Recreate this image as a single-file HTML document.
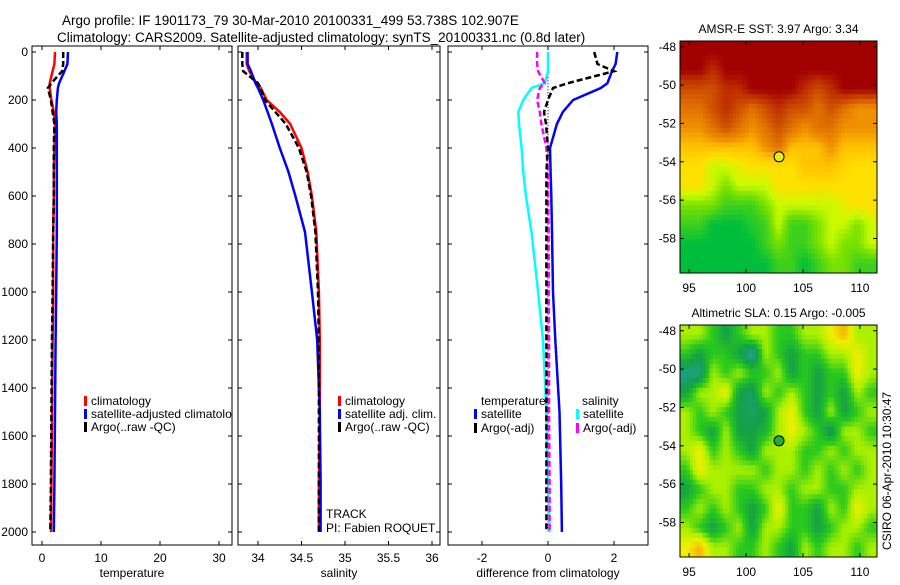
<!DOCTYPE html>
<html><head><meta charset="utf-8"><style>
body{margin:0;background:#fff;}
svg{font-family:"Liberation Sans",sans-serif;}
</style></head><body>
<svg id="fig" width="900" height="580" viewBox="0 0 900 580" xmlns="http://www.w3.org/2000/svg">
<rect width="900" height="580" fill="#fff"/>
<text x="62" y="25" font-size="13.5">Argo profile: IF 1901173_79 30-Mar-2010 20100331_499 53.738S 102.907E</text>
<text x="57" y="42" font-size="13.5">Climatology: CARS2009. Satellite-adjusted climatology: synTS_20100331.nc (0.8d later)</text>
<g id="plots"></g>
</svg>
<script>
// ---- profile data ----
const depths=[0,50,80,130,150,200,250,300,400,500,600,750,1000,1200,1500,1800,2000];
const tempClim=[2.2,2.1,1.8,1.3,1.3,1.6,2.0,2.2,2.1,2.0,2.0,1.9,1.9,1.8,1.7,1.6,1.5];
const tempSat=[4.4,4.3,3.8,2.9,2.7,2.5,2.4,2.5,2.5,2.5,2.5,2.5,2.4,2.3,2.2,2.1,2.0];
const tempArgo=[3.6,3.6,3.4,1.6,1.0,1.5,1.8,2.1,2.0,2.0,2.0,1.9,1.8,1.7,1.6,1.5,1.4];
const salClim=[33.87,33.87,33.9,33.98,34.03,34.1,34.25,34.37,34.5,34.57,34.62,34.67,34.7,34.71,34.71,34.7,34.7];
const salSat=[33.88,33.88,33.92,33.97,34.0,34.06,34.11,34.16,34.25,34.35,34.43,34.54,34.62,34.68,34.71,34.72,34.72];
const salArgo=[33.82,33.82,33.83,34.0,34.03,34.08,34.2,34.32,34.47,34.56,34.61,34.66,34.69,34.7,34.7,34.7,34.7];
const dTempSat=[2.1,2.05,1.94,1.8,1.6,0.76,0.45,0.27,0.06,0.08,0.1,0.12,0.15,0.22,0.35,0.4,0.42];
const dTempArgo=[1.4,1.5,2.0,0.6,0.15,0.0,-0.12,-0.06,0.0,-0.05,-0.05,-0.05,-0.05,-0.05,-0.05,-0.05,-0.05];
const dSalSat=[0,0,0,-0.1,-0.5,-0.75,-0.9,-0.88,-0.8,-0.75,-0.67,-0.5,-0.3,-0.15,-0.05,0,0.05];
const dSalArgo=[-0.33,-0.33,-0.3,-0.1,-0.25,-0.33,-0.25,-0.2,-0.05,0,0,0.02,0.02,0.03,0.03,0.05,0.05];
const depthTicks=[0,200,400,600,800,1000,1200,1400,1600,1800,2000];
const tempTicks=[0,10,20,30];
const salTicks=[34,34.5,35,35.5,36];
const diffTicks=[-2,0,2];
// ---- map data (rows top=-48 to bottom=-59.7, cols lon 94.2..111.5) ----
const sstGrid=[
[5,5,5,5,5,5,5,5,5,5,5,5,5,5,5],
[5,5,4.5,5,5,5,5,5,5,5,5,5,5,5,5],
[4,4,4,4.5,4.5,5,5,5,5,4.5,4,4.5,5,5,5],
[3.5,3.5,4,4.5,4,3.5,4,4.5,4,4,3.5,4,3.5,3,3],
[3,3,3.5,4,3.5,3,3.5,4,3.5,3,3.5,3.5,3,3,3],
[2.5,2.5,2.5,2.5,2.5,2.5,3,3.5,2.5,2.5,2.5,3,2.5,2.5,2.5],
[2,2,1.5,1.5,1.8,2,2,2,2,2.5,2.5,2.5,2.2,2,2],
[2,2,1.5,1,1.5,1.5,1.5,2,2,2,2,2,2,2,2],
[1,1,1,0.5,0.5,0.5,1,1.5,1.5,1.5,1.5,1.5,1.8,2,2],
[0.5,0.5,0,0,0,0.3,0.5,1.5,0.5,0.5,1,1.5,1.5,1,1.5],
[0,0,0,0,0,0,0.5,1,0.5,0.5,1,1.5,1,1,1.5],
[0,0,0,0,0,0,0,0.5,0.5,0,0.5,1,1,0.5,0.5]];
const slaGrid=[
[2,2,1,0,1,2,2,1,1,2,2,3,4,2,2],
[1,0,1,1,0,-1.5,2,1,0,1,1,2,2,3,2],
[-1,-1,2,1,2,1,1,2,0,1,0,1,1,3,2],
[0,2,2,3,0,-0.5,2,1,2,1,0,1,0,2,1],
[2,1,2,1,0,-0.5,0,2,3,1,0,2,0,1,2],
[2,1,0,2,0,0,0.5,2,3,2,1,-0.5,2,2,1],
[2,3,1,2,1,0,2,2,2,1,1,2,1,2,2],
[1,3,2,2,2,2,1,2,2,1,2,1,2,1,2],
[0,1,2,2,1,1,2,2,1,2,2,1,1,2,2],
[1,2,1,2,1,0,1,3,1,1,0,2,1,3,2],
[2,1,0,1,2,0,2,2,1,1,0,1,2,2,1],
[3,4,2,2,1,1,2,1,0,2,1,2,2,1,2]];
const lonTicks=[95,100,105,110];
const latTicks=[-48,-50,-52,-54,-56,-58];
const floatLon=102.9, floatLat=-53.74;

const NS="http://www.w3.org/2000/svg";
const root=document.getElementById('plots');
function mk(tag,attrs,parent){const e=document.createElementNS(NS,tag);for(const k in attrs)e.setAttribute(k,attrs[k]);(parent||root).appendChild(e);return e;}
function txt(x,y,s,size,anchor,parent){const t=mk('text',{x:x,y:y,'font-size':size||12,'text-anchor':anchor||'start'},parent);t.textContent=s;return t;}

const yD=d=>52+d*0.24;
const BOT=545;
function panel(name,x0,x1,xs,ticks,label,showY){
  const g=mk('g',{});
  
  
  const b=mk('rect',{x:x0,y:46,width:x1-x0,height:BOT-46,fill:'none',stroke:'#000','stroke-width':1},g);
  
  
  ticks.forEach(v=>{const x=xs(v);mk('line',{x1:x,x2:x,y1:BOT,y2:BOT-4,stroke:'#000'},g);mk('line',{x1:x,x2:x,y1:46,y2:50,stroke:'#000'},g);
    const t=txt(x,BOT+17,String(v),12,'middle',g);
    
    });
  depthTicks.forEach(d=>{const y=yD(d);mk('line',{x1:x0,x2:x0+4,y1:y,y2:y,stroke:'#000'},g);mk('line',{x1:x1,x2:x1-4,y1:y,y2:y,stroke:'#000'},g);
    if(showY){const t=txt(x0-4,y+4,String(d),12,'end',g);
    
    }});
  const l=txt((x0+x1)/2,BOT+32,label,12,'middle',g);
  
  
  return g;
}
function series(g,name,vals,xs,color,w,dash,clip){
  const pts=vals.map((v,i)=>xs(v).toFixed(1)+','+yD(depths[i]).toFixed(1)).join(' ');
  const p=mk('polyline',{points:pts,fill:'none',stroke:color,'stroke-width':w,'stroke-dasharray':dash||'none','clip-path':clip},g);
  
  
}
function legend(g,x,y,color,label,clip){
  mk('rect',{x:x,y:y-9,width:3,height:10,fill:color},g);
  const t=txt(x+7,y,label,12,'start',g);
  if(clip)t.setAttribute('clip-path',clip);
  
  
}
const defs=mk('defs',{});
function clipR(id,x0,x1){const c=mk('clipPath',{id:id},defs);mk('rect',{x:x0,y:46,width:x1-x0,height:BOT-46},c);return 'url(#'+id+')';}

// Panel 1 temperature
const xT=v=>42+v*5.9;
const c1=clipR('c1',32,232);
const g1=panel('temperature-panel',32,232,xT,tempTicks,'temperature',true);
series(g1,'temp-climatology-line',tempClim,xT,'#f00',2.5,null,c1);
series(g1,'temp-satellite-line',tempSat,xT,'#00f',2.5,null,c1);
series(g1,'temp-argo-line',tempArgo,xT,'#000',2.5,'6,3',c1);
legend(g1,84,405,'#f00','climatology');
legend(g1,84,418,'#00f','satellite-adjusted climatology',c1);
legend(g1,84,431,'#000','Argo(..raw -QC)');

// Panel 2 salinity
const xS=v=>258+(v-34)*87;
const c2=clipR('c2',238,440);
const g2=panel('salinity-panel',238,440,xS,salTicks,'salinity',false);
series(g2,'sal-climatology-line',salClim,xS,'#f00',2.5,null,c2);
series(g2,'sal-satellite-line',salSat,xS,'#00f',2.5,null,c2);
series(g2,'sal-argo-line',salArgo,xS,'#000',2.5,'6,3',c2);
legend(g2,338,405,'#f00','climatology');
legend(g2,338,418,'#00f','satellite adj. clim.');
legend(g2,338,431,'#000','Argo(..raw -QC)');
const tr=txt(326,518,'TRACK',12,'start',g2);


const pi=txt(326,532,'PI: Fabien ROQUET',12,'start',g2);



// Panel 3 differences
const xDf=v=>548+v*33;
const c3=clipR('c3',448,648);
const g3=panel('difference-panel',448,648,xDf,diffTicks,'difference from climatology',false);
const zl=mk('line',{x1:xDf(0),x2:xDf(0),y1:yD(80),y2:yD(2000),stroke:'#000','stroke-width':1,'stroke-dasharray':'1,2'},g3);


series(g3,'diff-sal-satellite-line',dSalSat,xDf,'#0ff',2.5,null,c3);
series(g3,'diff-sal-argo-line',dSalArgo,xDf,'#f0f',2.5,'6,3',c3);
series(g3,'diff-temp-satellite-line',dTempSat,xDf,'#00f',2.5,null,c3);
series(g3,'diff-temp-argo-line',dTempArgo,xDf,'#000',2.5,'6,3',c3);
const lt=txt(481,405,'temperature',12,'start',g3);


const ls=txt(582,405,'salinity',12,'start',g3);


legend(g3,474,418,'#00f','satellite');
legend(g3,474,432,'#000','Argo(-adj)');
legend(g3,576,418,'#0ff','satellite');
legend(g3,576,432,'#f0f','Argo(-adj)');

// ---- maps ----
function lerpColor(stops,v){
  if(v<=stops[0][0])return stops[0][1];
  for(let i=1;i<stops.length;i++){if(v<=stops[i][0]){const a=stops[i-1],b=stops[i],t=(v-a[0])/(b[0]-a[0]);
    return [0,1,2].map(k=>Math.round(a[1][k]+(b[1][k]-a[1][k])*t));}}
  return stops[stops.length-1][1];
}
const sstStops=[[0,[0,190,60]],[1,[120,225,0]],[1.5,[200,250,0]],[2,[255,225,0]],[2.5,[255,195,0]],[3,[240,145,0]],[3.5,[225,115,0]],[4,[205,80,0]],[4.5,[190,45,0]],[5,[160,0,0]]];
const slaStops=[[-2,[40,190,210]],[-1,[30,160,130]],[0,[20,160,70]],[1,[40,200,30]],[2,[170,240,0]],[3,[240,240,0]],[4,[245,180,0]]];
function sample(grid,fr,fc){
  const R=grid.length-1,C=grid[0].length-1;
  fr=Math.max(0,Math.min(R,fr));fc=Math.max(0,Math.min(C,fc));
  const r0=Math.floor(fr),c0=Math.floor(fc),r1=Math.min(R,r0+1),c1=Math.min(C,c0+1),tr=fr-r0,tc=fc-c0;
  const a=grid[r0][c0]*(1-tc)+grid[r0][c1]*tc,b=grid[r1][c0]*(1-tc)+grid[r1][c1]*tc;
  return a*(1-tr)+b*tr;
}
function mapPanel(name,grid,stops,top,title,markerFill){
  const x0=680,x1=877,bot=top+232;
  const lonMin=94.2,lonMax=111.5,latTop=-47.7,latBot=-59.8;
  const lx=v=>x0+(v-lonMin)/(lonMax-lonMin)*(x1-x0);
  const ly=v=>top+(latTop-v)/(latTop-latBot)*(bot-top);
  const g=mk('g',{});
  
  
  const rows=grid.length,cols=grid[0].length,up=4;
  const nr=rows*up,nc=cols*up;
  const cw=(x1-x0)/nc,ch=(bot-top)/nr;
  for(let r=0;r<nr;r++)for(let c=0;c<nc;c++){
    const v=sample(grid,(r+0.5)/up-0.5,(c+0.5)/up-0.5);
    const col=lerpColor(stops,v);
    const cell=mk('rect',{x:(x0+c*cw).toFixed(2),y:(top+r*ch).toFixed(2),width:(cw+0.5).toFixed(2),height:(ch+0.5).toFixed(2),fill:'rgb('+col.join(',')+')'},g);
    
    
  }
  const fr=mk('rect',{x:x0,y:top,width:x1-x0,height:bot-top,fill:'none',stroke:'#000'},g);
  
  
  lonTicks.forEach(v=>{const x=lx(v);mk('line',{x1:x,x2:x,y1:bot,y2:bot-4,stroke:'#000'},g);mk('line',{x1:x,x2:x,y1:top,y2:top+4,stroke:'#000'},g);
    const t=txt(x,bot+19,String(v),12,'middle',g);
    
    });
  latTicks.forEach(v=>{const y=ly(v);mk('line',{x1:x0,x2:x0+4,y1:y,y2:y,stroke:'#000'},g);mk('line',{x1:x1,x2:x1-4,y1:y,y2:y,stroke:'#000'},g);
    const t=txt(x0-4,y+4,String(v),12,'end',g);
    
    });
  const tt=txt((x0+x1)/2,top-8,title,12,'middle',g);
  
  
  const m=mk('circle',{cx:lx(floatLon),cy:ly(floatLat),r:5,fill:markerFill,stroke:'#000','stroke-width':1},g);
  
  
}
mapPanel('sst-map',sstGrid,sstStops,41,'AMSR-E SST: 3.97 Argo: 3.34','#e8f000');
mapPanel('sla-map',slaGrid,slaStops,325,'Altimetric SLA: 0.15 Argo: -0.005','#20b030');
const cs=mk('text',{x:0,y:0,'font-size':12,transform:'translate(891,550) rotate(-90)'});
cs.textContent='CSIRO 06-Apr-2010 10:30:47';


</script>
</body></html>
